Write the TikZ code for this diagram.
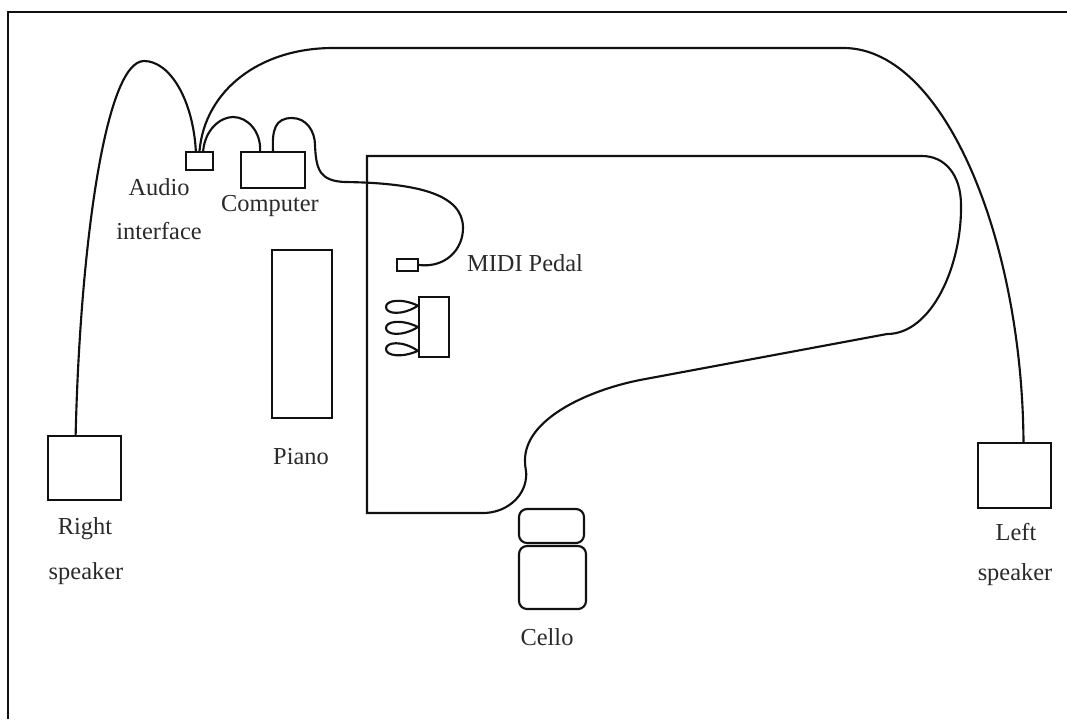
\documentclass[tikz,border=0pt]{standalone}
\usepackage{fontspec}
\setmainfont{Liberation Serif}
\definecolor{ink}{HTML}{111111}
\definecolor{word}{HTML}{2A2A2A}
\begin{document}
\begin{tikzpicture}[x=.75pt,y=-.75pt,box/.style={draw=ink,line width=1.6pt,inner sep=0pt},cable/.style={draw=ink,line width=1.6pt},caption/.style={font=\fontsize{18.3}{20}\selectfont,text=word,inner sep=0pt}]
 \useasboundingbox (0,0) rectangle (1067,719);
 \draw[ink,line width=1.7pt] (8,719)--(8,12)--(1067,12);
 % piano body
 \draw[ink,line width=1.6pt] (367,156)--(922,156) .. controls (945,156) and (961,175) .. (961,205) .. controls (962,265) and (932,334) .. (887,334)--(640,380) .. controls (585,391) and (525,420) .. (525,460) .. controls (525,470) and (527,472) .. (526,478) .. controls (524,498) and (505,513) .. (483,513)--(367,513)--cycle;
 \node[box,minimum width=27pt*.75,minimum height=18pt*.75] (audio) at (199.5,161) {};
 \node[box,minimum width=64pt*.75,minimum height=36pt*.75] (computer) at (273,170) {};
 \node[box,minimum width=60pt*.75,minimum height=168pt*.75] (keys) at (302,334) {};
 \node[box,minimum width=21pt*.75,minimum height=12pt*.75] (midi) at (407.5,265) {};
 \node[box,minimum width=30pt*.75,minimum height=60pt*.75] (pedals) at (434,327) {};
 \node[box,minimum width=73pt*.75,minimum height=64pt*.75] (rightspk) at (84.5,468) {};
 \node[box,minimum width=73pt*.75,minimum height=65pt*.75] (leftspk) at (1014.5,475.5) {};
 \node[box,rounded corners=6pt,minimum width=65pt*.75,minimum height=34pt*.75] (cellotop) at (551.5,526) {};
 \node[box,rounded corners=6pt,minimum width=67pt*.75,minimum height=63pt*.75] (cellobody) at (552.5,577.5) {};
 \node[caption] (audiotxt) at (159,187) {Audio};
 \node[caption] (interfacetxt) at (159,231) {interface};
 \node[caption] (computertxt) at (270,206) {Computer};
 \node[caption] (pianotxt) at (301,457) {Piano};
 \node[caption] (miditxt) at (525,263) {MIDI Pedal};
 \node[caption] (righttxt) at (85,529) {Right};
 \node[caption] (rspeakertxt) at (86,574) {speaker};
 \node[caption] (lefttxt) at (1016,532) {Left};
 \node[caption] (lspeakertxt) at (1015,575) {speaker};
 \node[caption] (cellotxt) at (547,637) {Cello};
 \draw[cable] (rightspk.105) .. controls (80,250) and (105,61) .. (144,61) .. controls (170,61) and (193,100) .. (audio.110);
 \draw[cable] (audio.north) .. controls (205,90) and (260,48) .. (333,48)--(845,48) .. controls (945,50) and (1022,240) .. (leftspk.75);
 \draw[cable] (audio.70) .. controls (205,130) and (220,117) .. (233,117) .. controls (248,117) and (261,132) .. (computer.124);
 \draw[cable] (computer.north) .. controls (272,130) and (275,118) .. (292,118) .. controls (307,118) and (315,132) .. (315,145) .. controls (316,170) and (320,181) .. (345,182) .. controls (420,183) and (463,195) .. (463,228) .. controls (463,250) and (445,268) .. (midi.east);
 % pedal loops
 \draw[cable] (pedals.127) .. controls (402,298) and (386,300) .. (386,307) .. controls (386,314) and (402,316) .. (pedals.127);
 \draw[cable] (pedals.west) .. controls (402,319) and (386,321) .. (386,328) .. controls (386,335) and (402,337) .. (pedals.west);
 \draw[cable] (pedals.236) .. controls (402,340) and (386,342) .. (386,349) .. controls (386,356) and (402,358) .. (pedals.236);
\end{tikzpicture}
\end{document}
